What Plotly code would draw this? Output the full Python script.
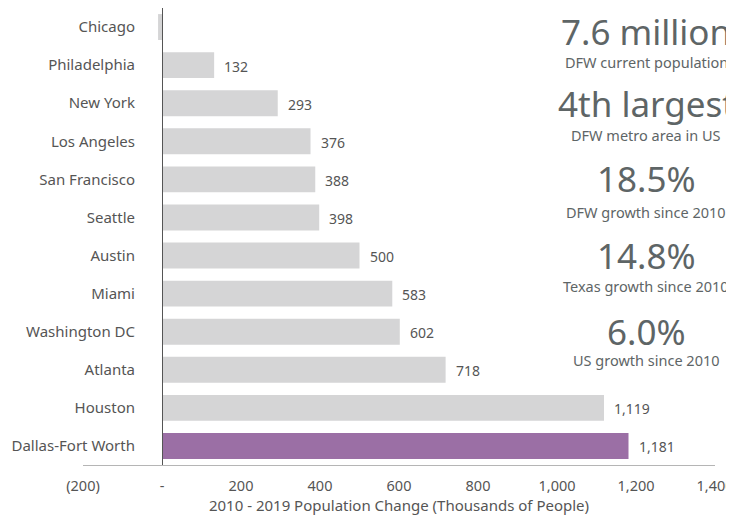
import plotly.graph_objects as go

cities = ["Chicago", "Philadelphia", "New York", "Los Angeles", "San Francisco", "Seattle",
          "Austin", "Miami", "Washington DC", "Atlanta", "Houston", "Dallas-Fort Worth"]
changes = [-10, 132, 293, 376, 388, 398, 500, 583, 602, 718, 1119, 1181]
value_labels = ["", "132", "293", "376", "388", "398", "500", "583", "602", "718", "1,119", "1,181"]
highlight = "Dallas-Fort Worth"

tick_vals = [-200, 0, 200, 400, 600, 800, 1000, 1200, 1400]
tick_text = ["(200)", "-", "200", "400", "600", "800", "1,000", "1,200", "1,400"]

stat_values = ["7.6 million", "4th largest", "18.5%", "14.8%", "6.0%"]
stat_labels = ["DFW current population", "DFW metro area in US", "DFW growth since 2010",
               "Texas growth since 2010", "US growth since 2010"]

FONT = "Noto Sans"
TXT = "#555555"
STAT = "#5e6566"

colors = ["#9b6fa5" if c == highlight else "#d5d5d6" for c in cities]

fig = go.Figure(go.Bar(
    x=changes, y=cities, orientation="h",
    marker=dict(color=colors, line=dict(width=0)),
    width=0.68, hoverinfo="skip",
))

for c, v, t in zip(cities, changes, value_labels):
    if t:
        fig.add_annotation(x=v, y=c, text=t, showarrow=False, xanchor="left", yanchor="middle",
                           xshift=8, yshift=-1, font=dict(family=FONT, size=14, color=TXT))

stat_y = [0.9475, 0.790, 0.626, 0.4595, 0.293]
label_y = [0.882, 0.722, 0.554, 0.392, 0.230]
for v, l, yv, yl in zip(stat_values, stat_labels, stat_y, label_y):
    fig.add_annotation(x=0.891, y=yv, xref="paper", yref="paper", text=v, showarrow=False,
                       xanchor="center", yanchor="middle", font=dict(family=FONT, size=35, color=STAT))
    fig.add_annotation(x=0.891, y=yl, xref="paper", yref="paper", text=l, showarrow=False,
                       xanchor="center", yanchor="middle", font=dict(family=FONT, size=14.5, color=STAT))

fig.update_layout(
    width=734, height=519,
    margin=dict(l=75, r=27, t=0, b=62),
    plot_bgcolor="white", paper_bgcolor="white",
    showlegend=False,
    font=dict(family=FONT, color=TXT),
    xaxis=dict(range=[-200, 1400], tickvals=tick_vals, ticktext=tick_text, automargin=False,
               showgrid=False, zeroline=False, showline=True, linecolor="#b5b5b5", linewidth=1,
               tickfont=dict(size=14.5, color=TXT), ticks="", ticklabelstandoff=8,
               title=dict(text="2010 - 2019 Population Change (Thousands of People)",
                          font=dict(size=15, color=TXT), standoff=6)),
    yaxis=dict(autorange="reversed", showgrid=False, zeroline=False, automargin=False,
               anchor="free", position=(0 - (-200)) / 1600,
               showline=True, linecolor="#555555", linewidth=1, ticks="",
               ticklabelstandoff=24,
               tickfont=dict(size=15, color=TXT)),
)

fig.write_html("out.html")
